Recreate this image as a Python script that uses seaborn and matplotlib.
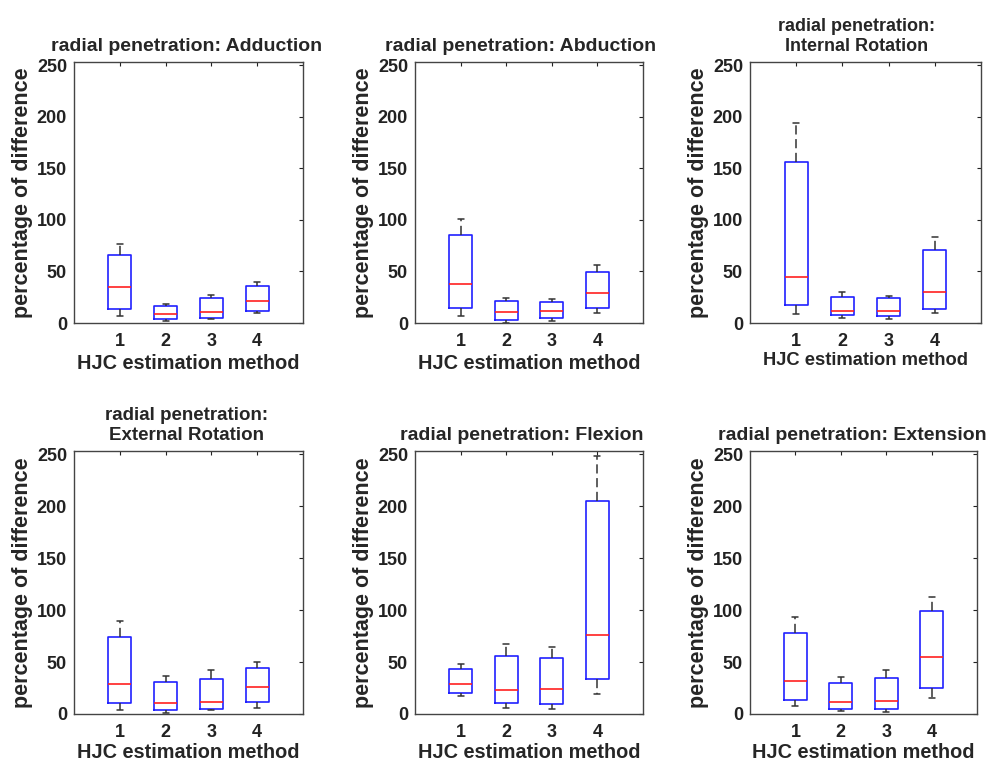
import numpy as np
import pandas as pd
import matplotlib
matplotlib.use("Agg")
import matplotlib.pyplot as plt
import seaborn as sns

# Five-number summaries per method: [lower whisker, Q1, median, Q3, upper whisker]
methods = ["1", "2", "3", "4"]
adduction = [[7, 14, 35, 66, 77], [2, 3.5, 9, 16, 18], [4, 5, 10.5, 24, 27.5], [10, 11.5, 21.7, 35.4, 40]]
abduction = [[6.7, 14.4, 37.4, 85.6, 101], [0.3, 2.6, 10.5, 21.4, 24], [2, 4.5, 11.8, 20.4, 23], [10, 14.4, 28.7, 49.5, 56]]
internal_rot = [[8.3, 17, 44.4, 156.5, 194], [4.5, 7.3, 12, 25.2, 30.3], [3.5, 6.4, 11.5, 24, 26.5], [10, 14, 30.3, 70.6, 83.3]]
external_rot = [[4, 10.2, 29, 73.7, 89.6], [1.3, 3.8, 10.8, 30.6, 36.7], [3.8, 4.8, 11.8, 34.1, 42.7], [5.7, 11.2, 25.8, 44.6, 50]]
flexion = [[17, 20, 29.3, 43.7, 48.2], [5.8, 11, 22.8, 56, 67.5], [4.8, 9.6, 24.1, 54.3, 64], [19, 33.4, 76.2, 204.5, 248]]
extension = [[7.7, 13.5, 31.8, 77.8, 93.6], [2.9, 4.8, 11.9, 30.2, 35.4], [1.9, 4.8, 12.5, 34.4, 42], [15, 24.8, 54.7, 98.7, 113]]

titles = ["radial penetration: Adduction", "radial penetration: Abduction",
          "radial penetration:\nInternal Rotation", "radial penetration:\nExternal Rotation",
          "radial penetration: Flexion", "radial penetration: Extension"]
panels = [adduction, abduction, internal_rot, external_rot, flexion, extension]
yticks = [0, 50, 100, 150, 200, 250]

sns.set_style("white")
plt.rcParams["font.family"] = ["Liberation Sans", "DejaVu Sans"]
plt.rcParams["font.weight"] = "bold"

W, H = 987, 764
fig = plt.figure(figsize=(W / 100, H / 100), dpi=100)

# axes boxes in pixels: left, top, right, bottom
boxes = [(74, 62, 303, 323), (415, 62, 643, 323), (750, 62, 981, 323),
         (74, 451, 303, 714), (415, 451, 643, 714), (750, 451, 977, 714)]
title_sizes = [14, 14, 13, 13.5, 14, 14]
title_x = [0.493, 0.465, 0.463, 0.493, 0.468, 0.45]
xlabel_sizes = [14.3, 14.3, 13.2, 14.3, 14.3, 14.3]
xlabel_pads = [3, 3, 1.5, 1.5, 1.5, 1.5]

for i, (stats, title, (l, t, r, b)) in enumerate(zip(panels, titles, boxes)):
    ax = fig.add_axes([l / W, 1 - b / H, (r - l) / W, (b - t) / H])
    rows = []
    for m, s in zip(methods, stats):
        for v in s:
            rows.append({"method": m, "value": v})
    df = pd.DataFrame(rows)
    sns.boxplot(data=df, x="method", y="value", order=methods, ax=ax,
                whis=(0, 100), fill=False, width=0.5, color="#0000ff",
                linewidth=1.2, showfliers=False,
                medianprops={"color": "#ff2020", "linewidth": 1.2},
                whiskerprops={"color": "#333333", "linestyle": (0, (6, 3)), "linewidth": 1.1},
                capprops={"color": "#333333", "linewidth": 1.1},
                boxprops={"color": "#2020ff", "linewidth": 1.2},
                capwidths=0.13)
    ax.set_xlim(-1, 4)
    ax.set_ylim(0, 253)
    ax.set_yticks(yticks)
    ax.set_xlabel("HJC estimation method", fontsize=xlabel_sizes[i], fontweight="bold",
                  labelpad=xlabel_pads[i])
    ax.set_ylabel("percentage of difference", fontsize=15.5, fontweight="bold", labelpad=3)
    ttl = ax.set_title(title, fontsize=title_sizes[i], fontweight="bold", pad=8, linespacing=1.2)
    ttl.set_x(title_x[i])
    ax.tick_params(direction="in", length=3, top=True, right=True, labelsize=13,
                   colors="#222222", width=0.8)
    ax.tick_params(axis="y", pad=5)
    ax.tick_params(axis="x", pad=7)
    for lab in ax.get_xticklabels() + ax.get_yticklabels():
        lab.set_fontweight("bold")
    for sp in ax.spines.values():
        sp.set_visible(True)
        sp.set_color("#444444")
        sp.set_linewidth(1.0)

fig.savefig("out.png", dpi=100, facecolor="white")
